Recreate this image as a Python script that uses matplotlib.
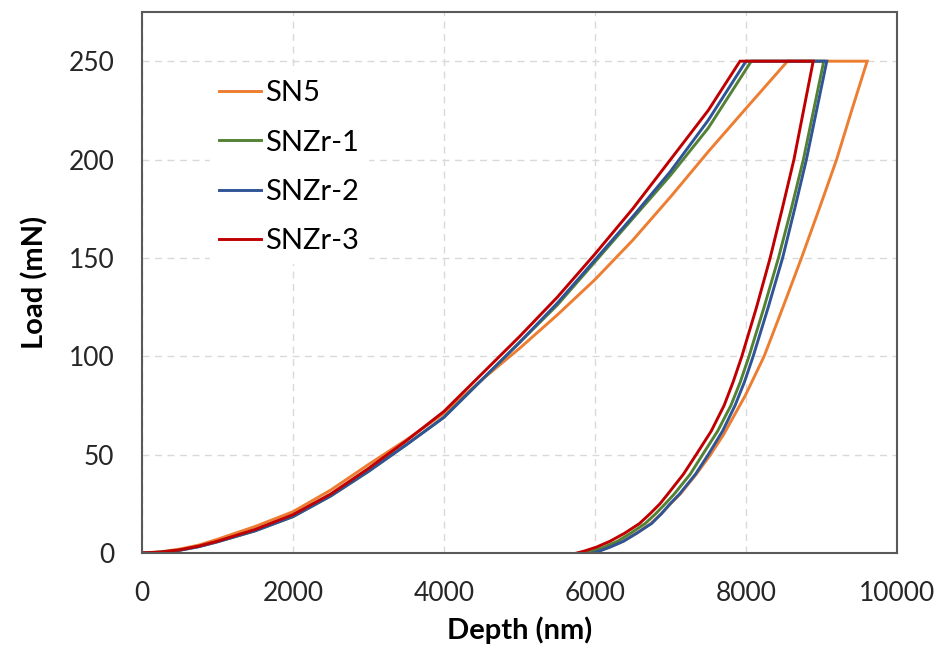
#!/usr/bin/env python3
"""
Load-depth nanoindentation curves (loading, hold at peak load, unloading)
for SN5 and the three SNZr samples.
"""
import numpy as np
import matplotlib

matplotlib.use("Agg")
import matplotlib.pyplot as plt  # noqa: E402

plt.rcParams["font.family"] = ["Lato", "DejaVu Sans"]

LABELS = ["SN5", "SNZr-1", "SNZr-2", "SNZr-3"]
COLORS = ["#ED7D31", "#548235", "#2F5597", "#C00000"]

# loading branches (depth nm, load mN)
sn5_load_h = [0, 250, 500, 750, 1000, 1500, 2000, 2500, 3000, 3500, 4000,
              4500, 5000, 5500, 6000, 6500, 7000, 7500, 8000, 8550]
sn5_load_p = [0, 0.6, 2, 4, 7, 13.5, 21, 32, 45, 57.5, 71,
              88, 104, 121, 139, 159, 181, 204, 226, 250]

zr1_load_h = [0, 250, 500, 750, 1000, 1500, 2000, 2500, 3000, 3500, 4000,
              4500, 5000, 5500, 6000, 6500, 7000, 7500, 8070]
zr1_load_p = [0, 0.4, 1.4, 3.2, 5.7, 11.3, 18.5, 29, 41.5, 55, 69,
              88, 107, 126, 148, 170, 192, 216, 250]

zr2_load_h = [0, 250, 500, 750, 1000, 1500, 2000, 2500, 3000, 3500, 4000,
              4500, 5000, 5500, 6000, 6500, 7000, 7500, 8000]
zr2_load_p = [0, 0.4, 1.4, 3.2, 5.7, 11.3, 18.5, 29, 41.5, 55, 69,
              88, 107, 127, 149, 171, 194, 220, 250]

zr3_load_h = [0, 250, 500, 750, 1000, 1500, 2000, 2500, 3000, 3500, 4000,
              4500, 5000, 5500, 6000, 6500, 7000, 7500, 7920]
zr3_load_p = [0, 0.5, 1.6, 3.5, 6, 12, 19.5, 30, 43, 57, 72,
              91, 110, 130, 152, 175, 200, 225, 250]

# unloading branches (start of each = end of hold at 250 mN)
sn5_unload_h = [9605, 9400, 9200, 8970, 8735, 8490, 8240, 7990, 7700, 7530,
                7340, 7130, 7000, 6880, 6740, 6550, 6370, 6190, 6050, 5960]
sn5_unload_p = [250, 225, 200, 175, 150, 125, 100, 80, 60, 50,
                40, 30, 25, 20, 15, 10, 6, 3, 1, 0]

zr1_unload_h = [9030, 8760, 8600, 8430, 8240, 8040, 7925, 7800, 7625, 7425,
                7260, 7050, 6930, 6805, 6665, 6470, 6300, 6120, 5975, 5890]
zr1_unload_p = [250, 200, 175, 150, 125, 100, 87, 75, 62, 50,
                40, 30, 25, 20, 15, 10, 6, 3, 1, 0]

zr2_unload_h = [9070, 8800, 8645, 8485, 8295, 8095, 7980, 7855, 7690, 7500,
                7330, 7120, 6995, 6880, 6750, 6550, 6380, 6200, 6060, 5975]
zr2_unload_p = [250, 200, 175, 150, 125, 100, 87, 75, 62, 50,
                40, 30, 25, 20, 15, 10, 6, 3, 1, 0]

zr3_unload_h = [8890, 8635, 8480, 8320, 8140, 7945, 7830, 7710, 7540, 7340,
                7170, 6965, 6860, 6730, 6590, 6390, 6200, 6020, 5860, 5760]
zr3_unload_p = [250, 200, 175, 150, 125, 100, 87, 75, 62, 50,
                40, 30, 25, 20, 15, 10, 6, 3, 1, 0]

SERIES = [
    (sn5_load_h, sn5_load_p, sn5_unload_h, sn5_unload_p),
    (zr1_load_h, zr1_load_p, zr1_unload_h, zr1_unload_p),
    (zr2_load_h, zr2_load_p, zr2_unload_h, zr2_unload_p),
    (zr3_load_h, zr3_load_p, zr3_unload_h, zr3_unload_p),
]

X_TICKS = [0, 2000, 4000, 6000, 8000, 10000]
Y_TICKS = [0, 50, 100, 150, 200, 250]


def main():
    fig = plt.figure(figsize=(9.43, 6.54), dpi=100)
    ax = fig.add_axes([142 / 943, 1 - 553 / 654, 755 / 943, 541 / 654])

    for (lh, lp, uh, up), lab, col in zip(SERIES, LABELS, COLORS):
        h = np.concatenate([lh, uh])
        p = np.concatenate([lp, up])
        ax.plot(h, p, color=col, lw=2.1, label=lab, solid_joinstyle="miter")

    ax.set_xlim(0, 10000)
    ax.set_ylim(0, 275)
    ax.set_xticks(X_TICKS)
    ax.set_yticks(Y_TICKS)
    ax.tick_params(length=0, labelsize=19, colors="#262626", pad=20)
    ax.grid(True, color="#d9d9d9", ls=(0, (5, 4)), lw=1.0)
    ax.set_axisbelow(True)
    for s in ax.spines.values():
        s.set_color("#595959")
        s.set_linewidth(1.5)

    ax.set_xlabel("Depth (nm)", fontsize=21, fontweight="bold", labelpad=8)
    ax.set_ylabel("Load (mN)", fontsize=21, fontweight="bold", labelpad=14)

    leg = ax.legend(loc="upper left", bbox_to_anchor=(0.09, 0.89),
                    fontsize=21, frameon=True, fancybox=False,
                    handlelength=1.45, handletextpad=0.15, labelspacing=0.8,
                    borderpad=0.3, borderaxespad=0)
    leg.get_frame().set_edgecolor("white")
    leg.get_frame().set_facecolor("white")
    leg.get_frame().set_alpha(1.0)

    fig.savefig("out.png", dpi=100)
    plt.close(fig)


if __name__ == "__main__":
    main()
